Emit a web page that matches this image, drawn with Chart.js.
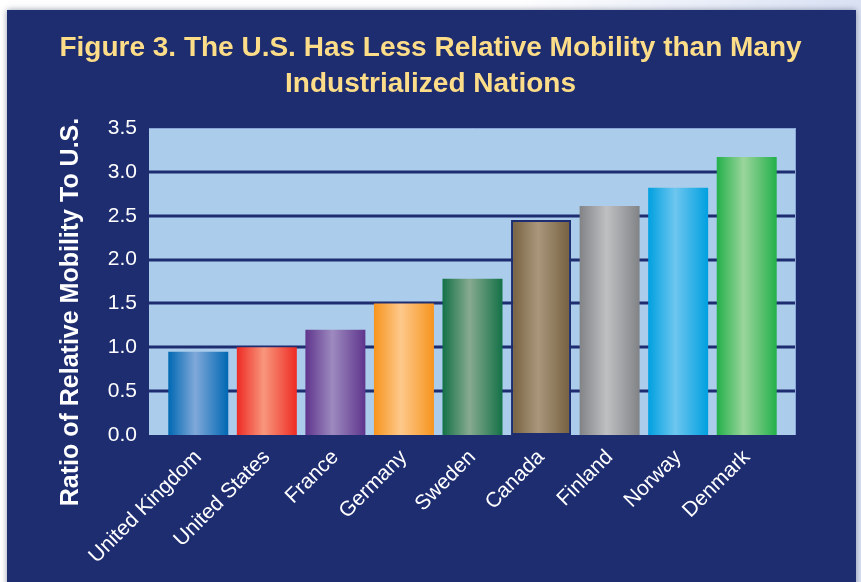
<!DOCTYPE html>
<html>
<head>
<meta charset="utf-8">
<script src="https://cdn.jsdelivr.net/npm/chart.js@4/dist/chart.umd.min.js"></script>
<style>
  html, body { margin: 0; padding: 0; background: #ffffff; }
  body { width: 861px; height: 582px; position: relative; overflow: hidden;
         background: linear-gradient(to right, #ffffff 60%, #d9e1f3 100%); }
  #panel { position: absolute; left: 7px; top: 10px; width: 849px; height: 580px;
           background: #1e2d70; box-shadow: 0 0 6px rgba(60,70,100,0.55); }
  #wrap { position: absolute; left: 0; top: 0; width: 861px; height: 582px; }
</style>
</head>
<body>
<div id="panel"></div>
<div id="wrap"><canvas id="myChart" width="861" height="582"></canvas></div>
<script>
// data
const countries = ['United Kingdom', 'United States', 'France', 'Germany', 'Sweden', 'Canada', 'Finland', 'Norway', 'Denmark'];
const mobility = [0.95, 1.0, 1.2, 1.5, 1.78, 2.45, 2.61, 2.82, 3.17];
const yTicks = [0, 0.5, 1.0, 1.5, 2.0, 2.5, 3.0, 3.5];

// bar colours: edge / middle of the shine
const edgeColors = ['#0068b3', '#ee2b24', '#5f358d', '#f7941d', '#137147', '#74603f', '#828386', '#00a0e0', '#23b04a'];
const midColors = ['#80a8d9', '#f8977c', '#9d8abf', '#fdc98c', '#87aa8f', '#aa967b', '#bfc0c2', '#6dc6ef', '#9bd59c'];

const navy = '#1e2d70';
const plotBg = '#abcdeb';

function barFill(ctx) {
    const chart = ctx.chart;
    const xs = chart.scales.x;
    const i = ctx.dataIndex;
    if (i === undefined || !chart.chartArea || !xs) return edgeColors[i || 0];
    const w = (xs.width / countries.length) * 0.875;
    const cx = xs.getPixelForValue(i);
    const g = chart.ctx.createLinearGradient(cx - w / 2, 0, cx + w / 2, 0);
    g.addColorStop(0, edgeColors[i]);
    g.addColorStop(0.45, midColors[i]);
    g.addColorStop(1, edgeColors[i]);
    return g;
}

// light blue box + dark grid lines, a bit wider than the bars
const plotBox = {
    id: 'plotBox',
    beforeDatasetsDraw(chart) {
        const c = chart.ctx;
        const a = chart.chartArea;
        const ys = chart.scales.y;
        const ext = 15;
        c.save();
        c.fillStyle = plotBg;
        c.fillRect(a.left - ext, a.top, a.right - a.left + ext * 2, a.bottom - a.top);
        c.strokeStyle = navy;
        c.lineWidth = 3;
        yTicks.forEach(v => {
            if (v === 0 || v === 3.5) return;
            const y = Math.round(ys.getPixelForValue(v));
            c.beginPath();
            c.moveTo(a.left - ext, y);
            c.lineTo(a.right + ext, y);
            c.stroke();
        });
        c.strokeStyle = '#8ba6d6';
        c.lineWidth = 1;
        c.beginPath();
        c.moveTo(a.left - ext, a.top + 0.5);
        c.lineTo(a.right + ext - 0.5, a.top + 0.5);
        c.lineTo(a.right + ext - 0.5, a.bottom);
        c.stroke();
        c.restore();
    }
};

// y axis title
const yTitle = {
    id: 'yTitle',
    afterDraw(chart) {
        const c = chart.ctx;
        c.save();
        c.translate(71, 312);
        c.rotate(-Math.PI / 2);
        c.fillStyle = '#ffffff';
        c.font = "bold 25px 'Liberation Sans', Arial, sans-serif";
        c.textAlign = 'center';
        c.textBaseline = 'middle';
        c.fillText('Ratio of Relative Mobility To U.S.', 0, 0);
        c.restore();
    }
};

Chart.defaults.font.family = "'Liberation Sans', Arial, sans-serif";

const config = {
    type: 'bar',
    data: {
        labels: countries,
        datasets: [{
            label: 'Ratio of Relative Mobility To U.S.',
            data: mobility,
            yAxisID: 'y',
            backgroundColor: barFill,
            borderColor: navy,
            borderWidth: [0, 0, 0, 0, 0, 2, 0, 0, 0],
            borderSkipped: false,
            barPercentage: 0.875,
            categoryPercentage: 1.0
        }]
    },
    options: {
        responsive: false,
        animation: false,
        layout: { padding: 0 },
        plugins: {
            legend: { display: false },
            tooltip: { enabled: false },
            title: {
                display: true,
                text: ['Figure 3. The U.S. Has Less Relative Mobility than Many', 'Industrialized Nations'],
                color: '#fedd89',
                font: { size: 28, weight: 'bold', lineHeight: 36 / 28 },
                padding: { top: 30, bottom: 26 }
            }
        },
        scales: {
            x: {
                offset: true,
                grid: { display: false, drawTicks: false },
                border: { display: false },
                ticks: {
                    color: '#ffffff',
                    font: { size: 21 },
                    autoSkip: false,
                    maxRotation: 45,
                    minRotation: 45,
                    padding: 10
                },
                afterFit(scale) { scale.height = 147; }
            },
            y: {
                min: 0,
                max: 3.5,
                grid: { display: false, drawTicks: false },
                border: { display: false },
                ticks: {
                    color: '#ffffff',
                    font: { size: 21 },
                    stepSize: 0.5,
                    padding: 27,
                    callback: v => v.toFixed(1)
                },
                afterFit(scale) { scale.width = 164; }
            },
            // empty right-hand axis, only keeps space on the right
            yRight: {
                position: 'right',
                min: 0,
                max: 3.5,
                grid: { display: false, drawTicks: false },
                border: { display: false },
                ticks: { display: false },
                afterFit(scale) { scale.width = 80; }
            }
        }
    },
    plugins: [plotBox, yTitle]
};

var myChart = new Chart(document.getElementById('myChart'), config);
</script>
</body>
</html>
